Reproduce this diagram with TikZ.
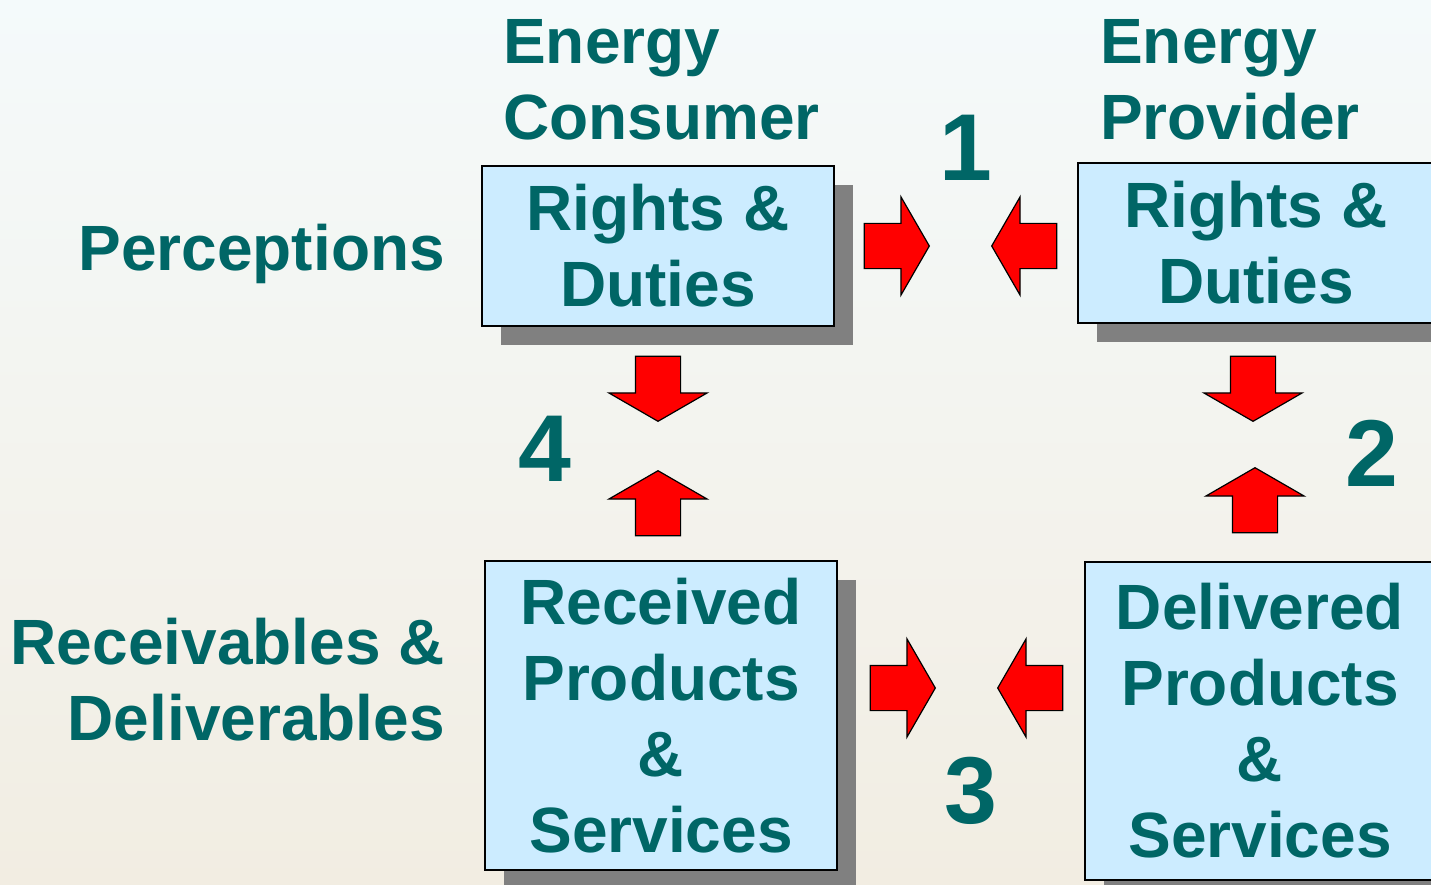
\documentclass[tikz,border=0pt]{standalone}
\usepackage{fontspec}
\setmainfont{Liberation Sans}
\usetikzlibrary{shapes.arrows, shadows, positioning}
\definecolor{labelteal}{RGB}{0,102,102}
\definecolor{boxblue}{RGB}{204,236,255}
\definecolor{shadowgray}{RGB}{128,128,128}
\definecolor{bgtop}{RGB}{244,250,251}
\definecolor{bgbottom}{RGB}{242,237,226}

\begin{document}
\begin{tikzpicture}[x=1pt, y=-1pt]
    \tikzstyle{label text}=[text=labelteal, font=\fontsize{64}{76}\selectfont\bfseries, inner sep=0pt]
    \tikzstyle{box}=[label text, draw=black, line width=1.5pt, fill=boxblue, align=center,
        drop shadow={fill=shadowgray, opacity=1, shadow xshift=19pt, shadow yshift=-19pt}]
    \tikzstyle{digit}=[text=labelteal, font=\fontsize{95}{95}\selectfont\bfseries, inner sep=0pt, anchor=base]
    \tikzstyle{block arrow}=[shape=single arrow, fill=red, draw=black, line width=1.2pt,
        inner xsep=0pt, inner ysep=22pt, single arrow head extend=26.5pt,
        single arrow tip angle=120, minimum height=65pt, anchor=tip]

    % background
    \clip (0,0) rectangle (1431,885);
    \shade[top color=bgtop, bottom color=bgbottom] (0,0) rectangle (1431,885);

    % Draw the boxes
    \node[box, minimum width=352pt, minimum height=160pt] (cons-rd) at (658,246) {Rights \&\\Duties};
    \node[box, minimum width=356pt, minimum height=160pt] (prov-rd) at (1256,243) {Rights \&\\Duties};
    \node[box, minimum width=352pt, minimum height=309pt] (cons-ps) at (661,715.5) {Received\\Products\\\&\\Services};
    \node[box, minimum width=350pt, minimum height=318pt] (prov-ps) at (1260,721) {Delivered\\Products\\\&\\Services};

    % Draw the side and column labels
    \node[label text, anchor=north west, align=left] (cons) at (503,19) {Energy\\Consumer};
    \node[label text, anchor=north west, align=left] (prov) at (1100,19) {Energy\\Provider};
    \node[label text, anchor=north east] (perc) at (445,224) {Perceptions};
    \node[label text, anchor=north east, align=right] (recv) at (445,618) {Receivables \&\\Deliverables};

    % Draw the numbers
    \foreach \name/\pos/\num in {n1/{966,181}/1, n2/{1372,486}/2, n3/{971,823}/3, n4/{545,481}/4}
        \node[digit] (\name) at (\pos) {\num};

    % Draw the block arrows (tip, rotation)
    \foreach \name/\tip/\ang in {a1r/{930,246}/0, a1l/{991,246}/180, a2d/{1253,422}/-90, a2u/{1255,467}/90,
                                 a3r/{936,688}/0, a3l/{997,688}/180, a4d/{658,422}/-90, a4u/{658,470}/90}
        \node[block arrow, rotate=\ang] (\name) at (\tip) {};
\end{tikzpicture}
\end{document}
